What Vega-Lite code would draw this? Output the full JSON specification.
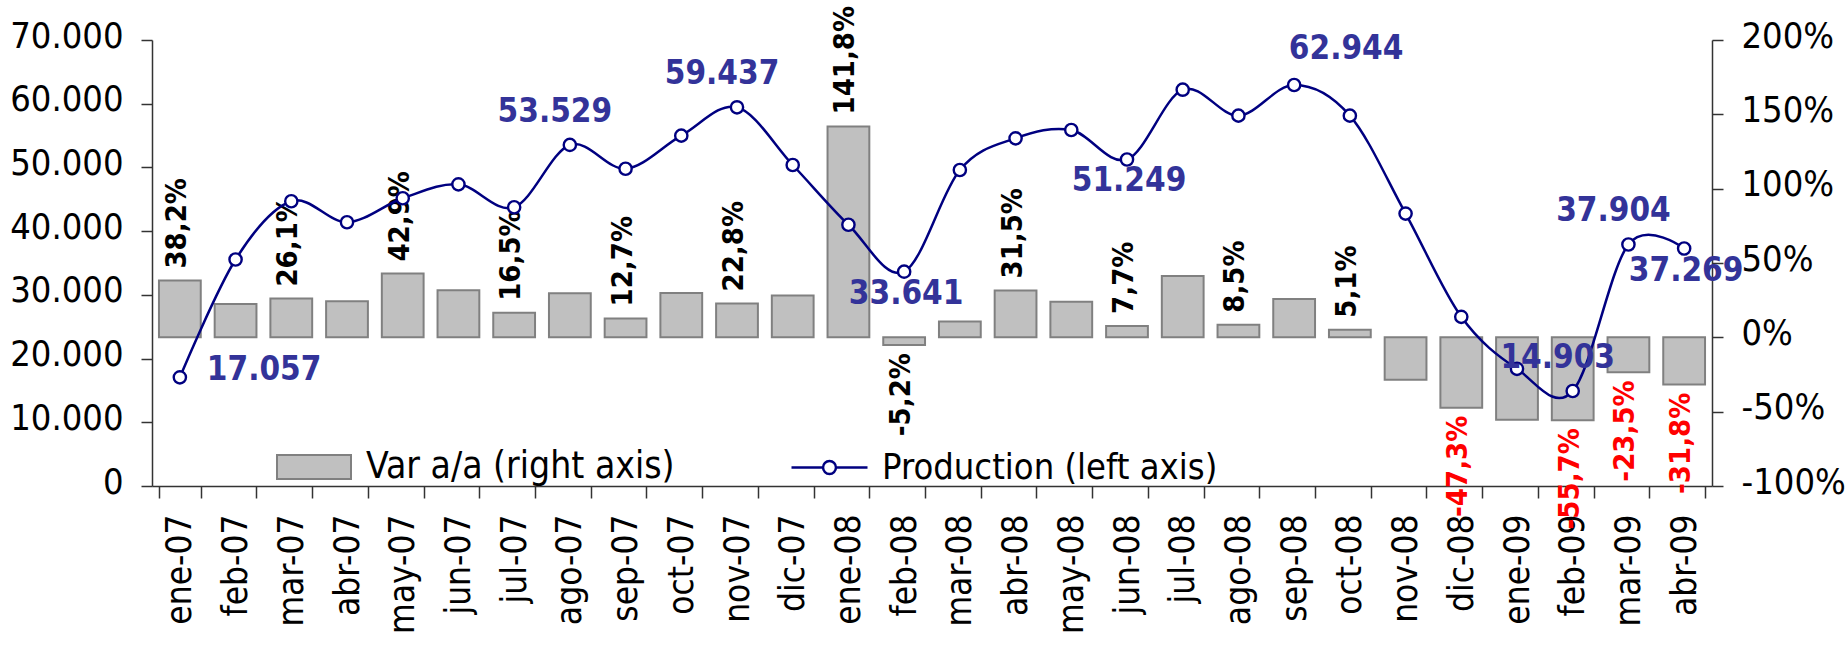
{
  "$schema": "https://vega.github.io/schema/vega-lite/v6.json",
  "width": 1560,
  "height": 446,
  "autosize": {"type": "none"},
  "padding": {"left": 152, "top": 40, "right": 133, "bottom": 181},
  "background": "white",
  "config": {
    "locale": {"number": {"decimal": ",", "thousands": ".", "grouping": [3], "currency": ["", " €"], "minus": "-"}},
    "view": {"stroke": null},
    "font": "DejaVu Sans Condensed",
    "axis": {
      "labelFont": "DejaVu Sans Condensed",
      "labelFontSize": 36,
      "labelColor": "black",
      "domainColor": "#333333",
      "tickColor": "#333333",
      "domainWidth": 1.5,
      "tickWidth": 1.5,
      "grid": false,
      "title": null
    },
    "legend": {
      "labelFont": "DejaVu Sans Condensed",
      "labelFontSize": 37,
      "labelColor": "black",
      "labelLimit": 600,
      "padding": 0
    }
  },
  "data": {
    "values": [
      {"month": "ene-07", "prod": 17057, "var": 0.382},
      {"month": "feb-07", "prod": 35550, "var": 0.225},
      {"month": "mar-07", "prod": 44690, "var": 0.261},
      {"month": "abr-07", "prod": 41400, "var": 0.243},
      {"month": "may-07", "prod": 45160, "var": 0.429},
      {"month": "jun-07", "prod": 47350, "var": 0.317},
      {"month": "jul-07", "prod": 43750, "var": 0.165},
      {"month": "ago-07", "prod": 53529, "var": 0.297},
      {"month": "sep-07", "prod": 49800, "var": 0.127},
      {"month": "oct-07", "prod": 54990, "var": 0.299},
      {"month": "nov-07", "prod": 59437, "var": 0.228},
      {"month": "dic-07", "prod": 50380, "var": 0.281},
      {"month": "ene-08", "prod": 41000, "var": 1.418},
      {"month": "feb-08", "prod": 33641, "var": -0.052},
      {"month": "mar-08", "prod": 49600, "var": 0.106},
      {"month": "abr-08", "prod": 54570, "var": 0.315},
      {"month": "may-08", "prod": 55870, "var": 0.24},
      {"month": "jun-08", "prod": 51249, "var": 0.077},
      {"month": "jul-08", "prod": 62200, "var": 0.413},
      {"month": "ago-08", "prod": 58130, "var": 0.085},
      {"month": "sep-08", "prod": 62944, "var": 0.258},
      {"month": "oct-08", "prod": 58130, "var": 0.051},
      {"month": "nov-08", "prod": 42760, "var": -0.285},
      {"month": "dic-08", "prod": 26550, "var": -0.473},
      {"month": "ene-09", "prod": 18390, "var": -0.554},
      {"month": "feb-09", "prod": 14903, "var": -0.557},
      {"month": "mar-09", "prod": 37904, "var": -0.235},
      {"month": "abr-09", "prod": 37269, "var": -0.318}
    ]
  },
  "layer": [
    {
      "encoding": {
        "x": {
          "field": "month",
          "type": "ordinal",
          "sort": null,
          "scale": {"paddingInner": 0.25, "paddingOuter": 0.125},
          "axis": {"labelAngle": 270, "tickBand": "extent", "tickSize": 12, "labelPadding": 16, "labelFontSize": 35, "title": null}
        },
        "y": {
          "field": "var",
          "type": "quantitative",
          "scale": {"domain": [-1, 2]},
          "axis": {
            "orient": "right",
            "values": [-1, -0.5, 0, 0.5, 1, 1.5, 2],
            "format": ".0%",
            "tickSize": 11,
            "labelPadding": 18,
            "labelOffset": -4,
            "title": null
          }
        }
      },
      "layer": [
        {
          "mark": {"type": "bar", "stroke": "#808080", "strokeWidth": 2},
          "encoding": {
            "fill": {
              "datum": "Var a/a (right axis)",
              "scale": {"range": ["#c0c0c0"]},
              "legend": {
                "orient": "none",
                "legendX": 124,
                "legendY": 389,
                "title": null,
                "symbolType": "M-1,-0.324H1V0.324H-1Z",
                "symbolSize": 5476,
                "symbolStrokeColor": "#808080",
                "symbolStrokeWidth": 2,
                "labelOffset": 14
              }
            }
          }
        },
        {
          "transform": [{"filter": {"field": "month", "oneOf": ["ene-07", "mar-07", "may-07", "jul-07", "sep-07", "nov-07", "ene-08", "abr-08", "jun-08", "ago-08", "oct-08"]}}],
          "mark": {"type": "text", "angle": 270, "align": "left", "baseline": "middle", "dx": 12, "dy": -3, "fontWeight": "bold", "fontSize": 29},
          "encoding": {"text": {"field": "var", "format": ".1%"}, "color": {"value": "black"}}
        },
        {
          "transform": [{"filter": {"field": "month", "oneOf": ["feb-08", "dic-08", "feb-09", "mar-09", "abr-09"]}}],
          "mark": {"type": "text", "angle": 270, "align": "right", "baseline": "middle", "dx": -8, "dy": -3, "fontWeight": "bold", "fontSize": 29},
          "encoding": {
            "text": {"field": "var", "format": ".1%"},
            "color": {"condition": {"test": "datum['var'] < -0.2", "value": "red"}, "value": "black"}
          }
        }
      ]
    },
    {
      "encoding": {
        "x": {"field": "month", "type": "ordinal", "sort": null},
        "y": {
          "field": "prod",
          "type": "quantitative",
          "scale": {"domain": [0, 70000]},
          "axis": {
            "orient": "left",
            "values": [0, 10000, 20000, 30000, 40000, 50000, 60000, 70000],
            "format": ",.0f",
            "tickSize": 11,
            "labelPadding": 18,
            "labelOffset": -4,
            "title": null
          }
        }
      },
      "layer": [
        {
          "mark": {"type": "line", "interpolate": "cardinal", "strokeWidth": 2.5},
          "encoding": {
            "stroke": {
              "datum": "Production (left axis)",
              "scale": {"range": ["#000080"]},
              "legend": {
                "orient": "none",
                "legendX": 638,
                "legendY": 388,
                "title": null,
                "symbolType": "M-1,0H-0.17M0.17,0H1M-0.17,0A0.17,0.17 0 1,0 0.17,0A0.17,0.17 0 1,0 -0.17,0",
                "symbolSize": 5776,
                "symbolStrokeWidth": 2.5,
                "symbolFillColor": "white",
                "labelOffset": 13,
                "labelFontSize": 36
              }
            }
          }
        },
        {
          "mark": {"type": "point", "shape": "circle", "filled": true, "fill": "white", "stroke": "#000080", "strokeWidth": 2.4, "size": 150, "opacity": 1}
        },
        {
          "transform": [{"filter": {"field": "month", "oneOf": ["ago-07", "nov-07", "feb-09", "mar-09"]}}],
          "mark": {"type": "text", "fontWeight": "bold", "fontSize": 33, "color": "#333399", "dx": -15, "dy": -33},
          "encoding": {"text": {"field": "prod", "format": ",.0f"}}
        },
        {
          "transform": [{"filter": {"field": "month", "oneOf": ["feb-08", "jun-08", "abr-09"]}}],
          "mark": {"type": "text", "fontWeight": "bold", "fontSize": 33, "color": "#333399", "dx": 2, "dy": 22},
          "encoding": {"text": {"field": "prod", "format": ",.0f"}}
        },
        {
          "transform": [{"filter": {"field": "month", "equal": "sep-08"}}],
          "mark": {"type": "text", "fontWeight": "bold", "fontSize": 33, "color": "#333399", "dx": 52, "dy": -36},
          "encoding": {"text": {"field": "prod", "format": ",.0f"}}
        },
        {
          "transform": [{"filter": {"field": "month", "equal": "ene-07"}}],
          "mark": {"type": "text", "fontWeight": "bold", "fontSize": 33, "color": "#333399", "align": "left", "dx": 27, "dy": -7},
          "encoding": {"text": {"field": "prod", "format": ",.0f"}}
        }
      ]
    }
  ],
  "resolve": {"scale": {"y": "independent"}, "axis": {"y": "independent"}}
}
